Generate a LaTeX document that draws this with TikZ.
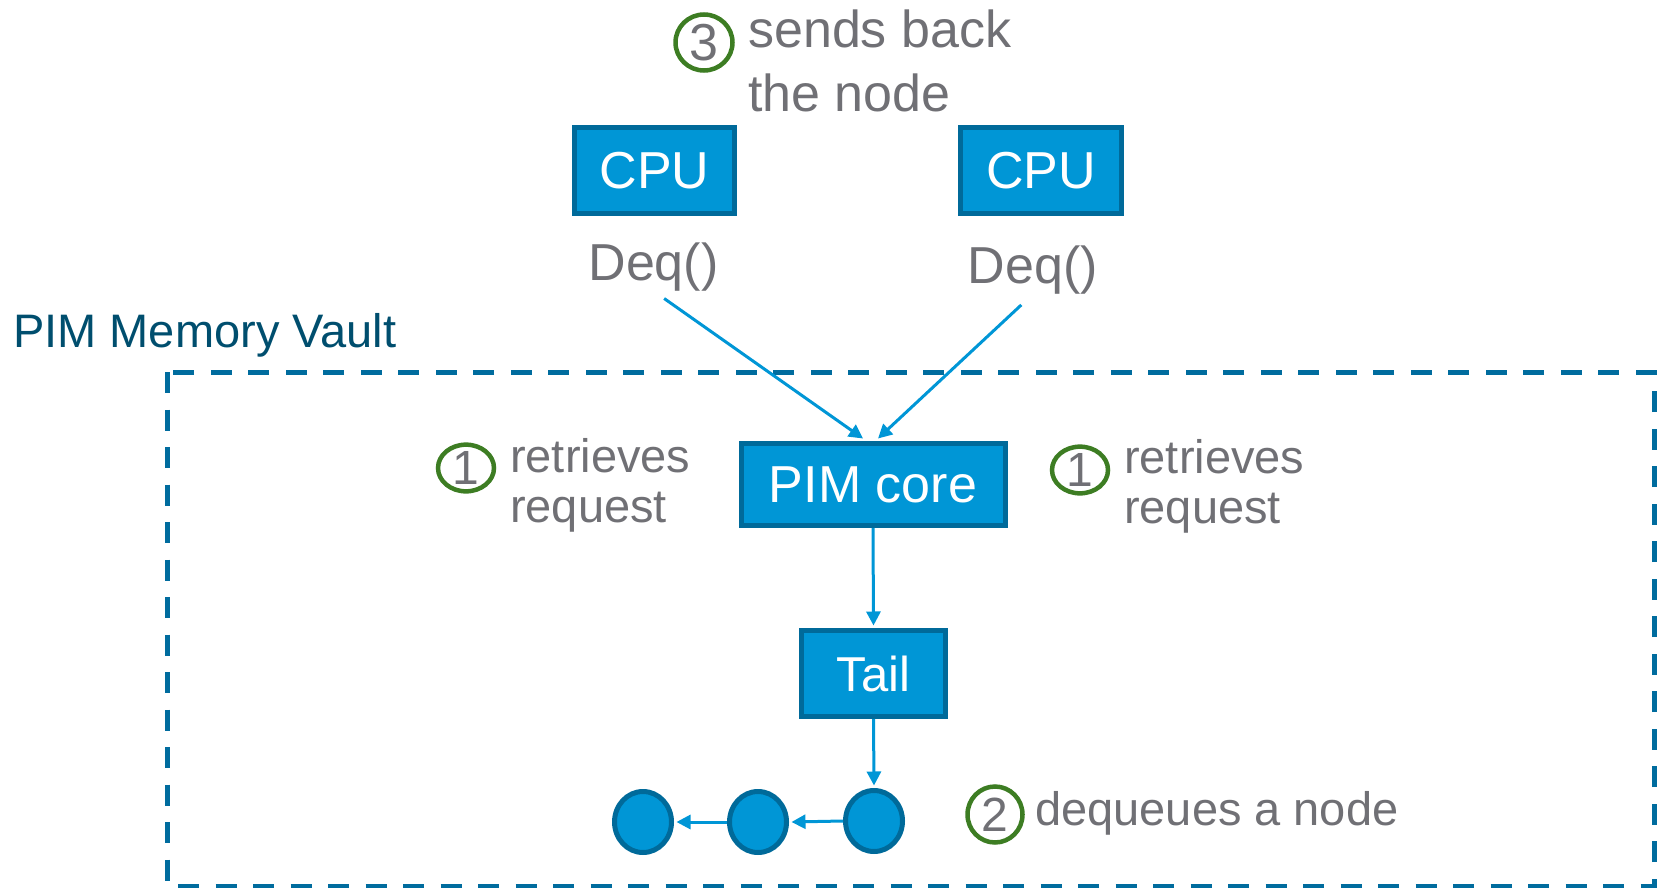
\documentclass[tikz,border=0pt]{standalone}
\usepackage{fontspec}
\setmainfont{Liberation Sans}
\usetikzlibrary{arrows.meta,shapes.geometric,calc}
\definecolor{boxfill}{RGB}{0,150,214}
\definecolor{boxline}{RGB}{0,106,154}
\definecolor{arrowblue}{RGB}{0,150,214}
\definecolor{txtgrey}{RGB}{112,112,117}
\definecolor{stepgreen}{RGB}{61,125,35}
\definecolor{vaultblue}{RGB}{0,108,158}
\definecolor{vaulttext}{RGB}{0,78,110}
\begin{document}
\begin{tikzpicture}[x=1pt,y=-1pt,
  bluebox/.style={draw=boxline, fill=boxfill, line width=5pt, text=white,
    inner sep=0pt, font=\fontsize{52}{60}\selectfont},
  listnode/.style={ellipse, draw=boxline, fill=boxfill, line width=5pt,
    inner sep=0pt, minimum width=57pt, minimum height=61pt},
  stepmark/.style={ellipse, draw=stepgreen, line width=4.5pt, text=txtgrey,
    inner sep=0pt, font=\fontsize{48}{48}\selectfont},
  greytext/.style={text=txtgrey, inner sep=0pt, anchor=base west, align=left},
  conn/.style={draw=arrowblue, line width=3pt, -{Triangle[length=14pt,width=14pt]}}
]
\useasboundingbox (0,0) rectangle (1657,888);

% vault
\draw[vaultblue, line width=5pt, dash pattern=on 21pt off 16.5pt]
  (167,372) rectangle (1654,886);
\node[anchor=base west, inner sep=0pt, text=vaulttext,
  font=\fontsize{47}{47}\selectfont] (vault) at (13,347) {PIM Memory Vault};

% CPUs
\node[bluebox, minimum width=160pt, minimum height=85pt] (cpu1) at (654.5,170.5) {CPU};
\node[bluebox, minimum width=161pt, minimum height=86pt] (cpu2) at (1041,170.5) {CPU};
\node[greytext, anchor=base, font=\fontsize{52}{60}\selectfont] (deq1) at (653.5,280) {Deq()};
\node[greytext, anchor=base, font=\fontsize{52}{60}\selectfont] (deq2) at (1033,283) {Deq()};

% PIM core and tail
\node[bluebox, minimum width=264pt, minimum height=82pt] (pim) at (873,484.5) {PIM core};
\node[bluebox, minimum width=144pt, minimum height=86pt,
  font=\fontsize{49}{55}\selectfont] (tail) at (873.5,673.5) {Tail};

% list nodes
\node[listnode] (n1) at (643,822) {};
\node[listnode] (n2) at (758,822) {};
\node[listnode] (n3) at (874,821) {};

% connectors
\draw[conn, shorten <=13pt] (deq1.south) -- ($(pim.north)+(-10,-2.5)$);
\draw[conn, shorten <=16pt] (deq2.south) -- ($(pim.north)+(5,-2.5)$);
\draw[conn] (pim.south) -- ($(tail.north)+(0,-2.5)$);
\draw[conn] (tail.south) -- ($(n3.north)+(0,-2.5)$);
\draw[conn] (n3.west) -- ($(n2.east)+(2.5,0)$);
\draw[conn] (n2.west) -- ($(n1.east)+(2.5,0)$);

% step 3
\node[stepmark, minimum width=57pt, minimum height=56pt,
  font=\fontsize{52}{52}\selectfont] (s3) at (704,42.5) {3};
\node[greytext, font=\fontsize{52}{64}\selectfont] (t3) at (748,112) {sends back\\the node};

% step 1 left
\node[stepmark, minimum width=56pt, minimum height=42pt] (s1l) at (466,468) {1};
\node[greytext, font=\fontsize{47}{50}\selectfont] (t1l) at (510,522) {retrieves\\request};

% step 1 right
\node[stepmark, minimum width=56pt, minimum height=42pt] (s1r) at (1080,470) {1};
\node[greytext, font=\fontsize{47}{50}\selectfont] (t1r) at (1124,523) {retrieves\\request};

% step 2
\node[stepmark, minimum width=55pt, minimum height=56pt] (s2) at (995,814.5) {2};
\node[greytext, font=\fontsize{47}{48}\selectfont] (t2) at (1035,825) {dequeues a node};
\end{tikzpicture}
\end{document}
